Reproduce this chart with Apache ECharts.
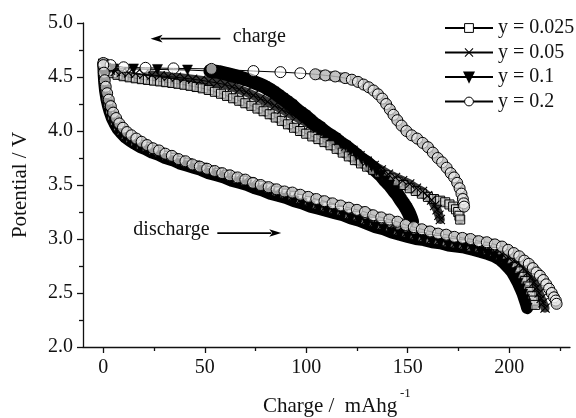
<!DOCTYPE html>
<html><head><meta charset="utf-8">
<script src="https://cdn.jsdelivr.net/npm/echarts/dist/echarts.min.js"></script>
<style>html,body{margin:0;padding:0;background:#fff}#c{width:576px;height:418px}</style>
</head><body><div id="c"></div>
<script>
// ---------- data ----------
const seriesNames = ['y = 0.025', 'y = 0.05', 'y = 0.1', 'y = 0.2'];
const xMajorTicks = [0, 50, 100, 150, 200];
const xMinorTicks = [25, 75, 125, 175, 225];

// y = 0.025
const charge025 = [[0,4.62],[1,4.585],[2.5,4.555],[4.5,4.535],[7,4.52],[10,4.507],[13,4.497],[16,4.488],[19,4.48],[22,4.473],[25,4.466],[28,4.459],[31,4.452],[34,4.445],[37,4.437],[40,4.428],[43,4.418],[46,4.407],[49,4.395],[52,4.38],[55,4.363],[58,4.345],[61,4.325],[64,4.303],[67,4.28],[70,4.257],[73,4.233],[76,4.208],[79,4.183],[82,4.155],[85,4.125],[88,4.094],[91,4.062],[94,4.03],[97,4.0],[100,3.975],[103,3.95],[106,3.925],[109,3.897],[112,3.868],[115,3.835],[118,3.80],[121,3.765],[124,3.73],[127,3.70],[130,3.67],[133,3.64],[136,3.615],[139,3.59],[142,3.56],[145,3.53],[148,3.50],[151,3.47],[154,3.445],[157,3.42],[160,3.39],[163,3.37],[166,3.355],[168.5,3.34],[170.6,3.32],[172.4,3.30],[173.8,3.275],[174.9,3.25],[175.5,3.215],[175.9,3.18]];
const discharge025 = [[0,4.62],[0.2,4.52],[0.5,4.45],[1,4.38],[1.6,4.31],[2.4,4.25],[3.3,4.19],[4.4,4.14],[5.7,4.09],[7.2,4.04],[9,4.00],[11,3.96],[13.3,3.93],[15.8,3.90],[18.5,3.87],[21.4,3.85],[24.5,3.82],[27.8,3.80],[31.2,3.77],[34.7,3.75],[38.2,3.72],[41.8,3.70],[45.4,3.68],[49,3.66],[53,3.63],[57,3.61],[61,3.59],[65,3.56],[69,3.54],[73,3.52],[77,3.49],[81,3.47],[85,3.44],[89,3.42],[93,3.40],[97,3.37],[101,3.35],[105,3.32],[109,3.30],[113,3.28],[117,3.26],[121,3.23],[125,3.21],[129,3.18],[133,3.16],[137,3.13],[141,3.11],[145,3.08],[149,3.06],[153,3.04],[157,3.02],[161,3.00],[165,2.99],[169,2.97],[173,2.96],[177,2.95],[181,2.93],[185,2.92],[189,2.90],[192.5,2.88],[195.5,2.85],[198.2,2.82],[200.6,2.78],[202.8,2.74],[204.7,2.70],[206.4,2.65],[207.9,2.61],[209.2,2.56],[210.4,2.51],[211.4,2.47],[212.2,2.43],[212.8,2.39]];

// y = 0.05
const charge05 = [[0,4.62],[1.5,4.585],[3.5,4.565],[6,4.553],[9,4.545],[12.5,4.538],[16,4.532],[20,4.525],[24,4.518],[28,4.511],[32,4.504],[36,4.497],[40,4.489],[44,4.48],[48,4.47],[52,4.458],[56,4.445],[60,4.43],[63.5,4.41],[67,4.385],[70.5,4.36],[74,4.33],[77.5,4.30],[81,4.27],[84.5,4.235],[88,4.20],[91.5,4.165],[95,4.13],[98.5,4.095],[102,4.06],[105.5,4.025],[109,3.99],[112.5,3.95],[116,3.91],[119.5,3.86],[123,3.82],[126.5,3.77],[130,3.72],[133.5,3.68],[137,3.64],[140.5,3.60],[144,3.57],[147.5,3.54],[151,3.51],[154.3,3.47],[157.3,3.44],[159.8,3.40],[161.8,3.36],[163.3,3.31],[164.5,3.27],[165.4,3.22],[166.1,3.18]];
const discharge05 = [[0,4.62],[0.2,4.53],[0.5,4.45],[1,4.37],[1.6,4.30],[2.4,4.24],[3.3,4.18],[4.4,4.13],[5.7,4.08],[7.2,4.03],[9,3.99],[11,3.95],[13.3,3.92],[15.8,3.89],[18.5,3.86],[21.4,3.84],[24.5,3.81],[27.8,3.79],[31.2,3.76],[34.7,3.74],[38.2,3.71],[41.8,3.69],[45.4,3.67],[49,3.65],[53,3.62],[57,3.60],[61,3.58],[65,3.55],[69,3.53],[73,3.51],[77,3.48],[81,3.46],[85,3.43],[89,3.41],[93,3.39],[97,3.36],[101,3.34],[105,3.31],[109,3.29],[113,3.27],[117,3.25],[121,3.22],[125,3.20],[129,3.17],[133,3.15],[137,3.12],[141,3.10],[145,3.07],[149,3.05],[153,3.03],[157,3.01],[161,2.99],[165,2.98],[169,2.96],[173,2.95],[177,2.94],[181,2.93],[185,2.91],[189,2.90],[193,2.88],[196.5,2.86],[199.5,2.83],[202.3,2.80],[204.8,2.77],[207,2.73],[209,2.69],[210.8,2.65],[212.3,2.60],[213.6,2.55],[214.8,2.50],[215.8,2.45],[216.7,2.41],[217.7,2.36]];

// y = 0.1
const charge01 = [[0,4.62],[5.1,4.575],[14.9,4.575],[26.7,4.57],[41.5,4.565],[52.8,4.555],[57,4.545],[60.5,4.53],[63.5,4.515],[66.5,4.50],[69.3,4.485],[72,4.47],[74.6,4.45],[77.1,4.43],[79.5,4.41],[81.8,4.385],[84,4.36],[86.2,4.33],[88.4,4.30],[90.6,4.27],[92.8,4.24],[95,4.20],[97.2,4.17],[99.5,4.14],[101.9,4.10],[104.3,4.06],[106.8,4.03],[109.3,3.99],[111.8,3.96],[114.3,3.93],[116.8,3.89],[119.4,3.86],[122,3.82],[124.6,3.78],[127.2,3.74],[129.7,3.71],[132.2,3.67],[134.6,3.63],[136.9,3.59],[139.1,3.54],[141.2,3.50],[143.2,3.45],[145,3.41],[146.7,3.36],[148.2,3.32],[149.5,3.28],[150.6,3.24],[151.5,3.20],[152.2,3.16]];
const discharge01 = [[0,4.62],[0.2,4.52],[0.5,4.44],[0.9,4.37],[1.5,4.30],[2.2,4.24],[3.1,4.18],[4.2,4.12],[5.5,4.07],[7,4.02],[8.8,3.98],[10.8,3.94],[13,3.91],[15.5,3.88],[18.2,3.85],[21,3.83],[24,3.80],[27.2,3.78],[30.5,3.75],[34,3.73],[37.5,3.70],[41,3.68],[44.5,3.66],[48,3.64],[51.8,3.61],[55.6,3.59],[59.4,3.57],[63.2,3.54],[67,3.52],[70.8,3.50],[74.6,3.47],[78.4,3.45],[82.2,3.42],[86,3.40],[90,3.38],[94,3.35],[98,3.33],[102,3.30],[106,3.28],[110,3.26],[114,3.24],[118,3.22],[122,3.19],[126,3.17],[130,3.14],[134,3.11],[138,3.09],[142,3.06],[146,3.04],[150,3.02],[154,3.00],[158,2.99],[162,2.97],[166,2.96],[170,2.94],[174,2.93],[178,2.92],[182,2.90],[186,2.88],[189.5,2.86],[192.5,2.84],[195.3,2.81],[197.7,2.77],[199.7,2.73],[201.5,2.69],[203,2.64],[204.4,2.59],[205.6,2.54],[206.7,2.49],[207.6,2.44],[208.3,2.40],[208.9,2.36]];

// y = 0.2
const charge02 = [[0,4.63],[3.6,4.61],[10,4.59],[20.8,4.585],[34.6,4.58],[53.3,4.575],[74,4.555],[87.3,4.545],[97.1,4.535],[104.5,4.525],[109.4,4.515],[114.3,4.505],[119.2,4.49],[122.5,4.475],[125.5,4.455],[128.3,4.43],[130.8,4.405],[133.2,4.375],[135.4,4.34],[137.5,4.30],[139.4,4.25],[141.2,4.20],[143,4.15],[144.9,4.10],[147,4.05],[149.4,4.00],[152,3.96],[154.7,3.93],[157.4,3.89],[160,3.85],[162.4,3.80],[164.8,3.75],[167,3.71],[169.2,3.66],[171.2,3.61],[172.9,3.57],[174.4,3.52],[175.6,3.47],[176.5,3.42],[177.2,3.37],[177.6,3.33],[177.8,3.30]];
const discharge02 = [[0,4.61],[0.3,4.54],[0.7,4.47],[1.2,4.41],[1.9,4.35],[2.7,4.29],[3.7,4.23],[4.9,4.17],[6.3,4.12],[7.9,4.07],[9.7,4.03],[11.7,3.99],[13.9,3.96],[16.3,3.93],[18.9,3.90],[21.6,3.87],[24.5,3.84],[27.5,3.82],[30.6,3.79],[33.8,3.77],[37.1,3.74],[40.5,3.72],[44,3.69],[47.6,3.67],[51.2,3.65],[54.9,3.63],[58.6,3.61],[62.4,3.59],[66.2,3.57],[70,3.55],[73.8,3.52],[77.6,3.50],[81.5,3.48],[85.4,3.46],[89.3,3.44],[93.2,3.43],[97.1,3.41],[101,3.39],[105,3.37],[109,3.35],[113,3.33],[117,3.31],[121,3.29],[125,3.27],[129,3.25],[133,3.22],[137,3.20],[141,3.18],[145,3.16],[149,3.13],[153,3.11],[157,3.09],[161,3.07],[165,3.05],[169,3.04],[173,3.02],[177,3.01],[181,3.00],[185,2.98],[189,2.97],[193,2.95],[196.5,2.93],[199.5,2.90],[202.3,2.87],[205,2.84],[207.5,2.80],[209.7,2.77],[211.7,2.73],[213.5,2.69],[215.2,2.66],[216.8,2.62],[218.3,2.58],[219.7,2.54],[221,2.50],[222.1,2.46],[223,2.43],[223.4,2.40]];

// ---------- styles ----------
const FONT = '"Liberation Serif", "Times New Roman", serif';
const INK = '#111';
const CROSS = 'path://M0,0.8L0.8,0L5,4.2L9.2,0L10,0.8L5.8,5L10,9.2L9.2,10L5,5.8L0.8,10L0,9.2L4.2,5Z';
const markerStyles = {
  'y = 0.025': { symbol: 'rect', symbolSize: 9, symbolRotate: 0, itemStyle: { color: 'rgba(255,255,255,0.5)', borderColor: '#000', borderWidth: 1 } },
  'y = 0.05':  { symbol: CROSS, symbolSize: 10, symbolRotate: 0, itemStyle: { color: '#000', borderColor: '#000', borderWidth: 0 } },
  'y = 0.1':   { symbol: 'triangle', symbolSize: 10, symbolRotate: 180, itemStyle: { color: '#000', borderColor: '#000', borderWidth: 0.5 } },
  'y = 0.2':   { symbol: 'circle', symbolSize: 11, symbolRotate: 0, itemStyle: { color: 'rgba(255,255,255,0.6)', borderColor: '#000', borderWidth: 1 } }
};
// dense-marker bands (where the reference markers overlap into a solid band)
const bandStyles = {
  'y = 0.025': { color: '#5a5a5a', width: 9 },
  'y = 0.05':  { color: '#3a3a3a', width: 9 },
  'y = 0.1':   { color: '#000', width: 12 },
  'y = 0.2':   { color: '#6a6a6a', width: 10 }
};
// [name, data, first index where markers become dense, band width override]
const curves = [
  ['y = 0.025', charge025, 2], ['y = 0.025', discharge025, 0],
  ['y = 0.05', charge05, 8], ['y = 0.05', discharge05, 0],
  ['y = 0.1', charge01, 5, 14], ['y = 0.1', discharge01, 0],
  ['y = 0.2', charge02, 9], ['y = 0.2', discharge02, 0]
];

const bandSeries = curves.map(([name, data, from, w]) => ({
  name: 'band ' + name, type: 'line', data: data.slice(from),
  showSymbol: false, silent: true, z: 1,
  lineStyle: { color: bandStyles[name].color, width: w || bandStyles[name].width, cap: 'round', join: 'round' },
  emphasis: { disabled: true }
}));
const markerSeries = curves.map(([name, data]) => Object.assign({
  name, type: 'line', data, z: 2,
  showSymbol: true, showAllSymbol: true,
  lineStyle: { color: '#000', width: 1 },
  emphasis: { disabled: true },
  silent: true
}, markerStyles[name]));

const legendData = seriesNames.map(n => ({
  name: n,
  itemStyle: (n === 'y = 0.025' || n === 'y = 0.2') ? { color: '#fff', borderColor: '#000', borderWidth: 1 } : undefined
}));

const chart = echarts.init(document.getElementById('c'), null, { renderer: 'canvas' });
const axisLineStyle = { color: INK, width: 1.3 };
chart.setOption({
  animation: false,
  backgroundColor: '#fff',
  grid: { left: 83, right: 6, top: 23, bottom: 71, containLabel: false },
  legend: {
    data: legendData,
    orient: 'vertical',
    left: 439, top: 13,
    itemWidth: 48, itemHeight: 11, itemGap: 4.5,
    lineStyle: { width: 2 },
    textStyle: { fontFamily: FONT, fontSize: 20, color: INK },
    selectedMode: false
  },
  xAxis: [{
    type: 'value', min: -10, max: 230,
    axisLine: { show: true, onZero: false, lineStyle: axisLineStyle },
    axisTick: { show: true, inside: false, length: 6, customValues: xMajorTicks, lineStyle: axisLineStyle },
    axisLabel: { customValues: xMajorTicks, margin: 11, fontFamily: FONT, fontSize: 20, color: INK },
    splitLine: { show: false }
  }, {
    type: 'value', min: -10, max: 230, position: 'bottom',
    axisLine: { show: false },
    axisTick: { show: true, inside: false, length: 4, customValues: xMinorTicks, lineStyle: axisLineStyle },
    axisLabel: { show: false },
    splitLine: { show: false }
  }],
  yAxis: {
    type: 'value', min: 2, max: 5, interval: 0.5,
    axisLine: { show: true, onZero: false, lineStyle: axisLineStyle },
    axisTick: { show: true, inside: false, length: 6, lineStyle: axisLineStyle },
    minorTick: { show: true, splitNumber: 2, length: 4, lineStyle: axisLineStyle },
    axisLabel: { margin: 10, fontFamily: FONT, fontSize: 20, color: INK, formatter: v => v.toFixed(1) },
    splitLine: { show: false }
  },
  series: bandSeries.concat(markerSeries)
});

// ---------- annotations & axis titles ----------
function px(x, y) { return chart.convertToPixel({ xAxisIndex: 0, yAxisIndex: 0 }, [x, y]); }
function arrow(tail, head) {
  const dx = head[0] - tail[0], dy = head[1] - tail[1];
  const L = Math.hypot(dx, dy), ux = dx / L, uy = dy / L;
  const hl = 12, hw = 3.8;
  const bx = head[0] - ux * hl, by = head[1] - uy * hl;
  return [
    { type: 'line', shape: { x1: tail[0], y1: tail[1], x2: bx + ux * 2, y2: by + uy * 2 }, style: { stroke: '#000', lineWidth: 1.8 }, silent: true },
    { type: 'polygon', shape: { points: [[head[0], head[1]], [bx - uy * hw, by + ux * hw], [bx + ux * 3, by + uy * 3], [bx + uy * hw, by - ux * hw]] }, style: { fill: '#000' }, silent: true }
  ];
}
const tChargeTxt = px(76.9, 4.87), tChargeA = px(57.7, 4.855), tChargeB = px(23.3, 4.855);
const tDisTxt = px(33.6, 3.09), tDisA = px(56.2, 3.055), tDisB = px(87.7, 3.055);
const g = [];
g.push({ type: 'text', x: tChargeTxt[0], y: tChargeTxt[1], style: { text: 'charge', font: '20px ' + FONT, fill: INK, align: 'center', verticalAlign: 'middle' }, silent: true });
g.push(...arrow(tChargeA, tChargeB));
g.push({ type: 'text', x: tDisTxt[0], y: tDisTxt[1], style: { text: 'discharge', font: '20px ' + FONT, fill: INK, align: 'center', verticalAlign: 'middle' }, silent: true });
g.push(...arrow(tDisA, tDisB));
// y axis title
g.push({ type: 'text', x: 20, y: 185, rotation: Math.PI / 2, style: { text: 'Potential / V', font: '21px ' + FONT, fill: INK, align: 'center', verticalAlign: 'middle' }, silent: true });
// x axis title with superscript
g.push({ type: 'text', x: 263, y: 406, style: { text: 'Charge /  mAhg', font: '21px ' + FONT, fill: INK, align: 'left', verticalAlign: 'middle' }, silent: true });
g.push({ type: 'text', x: 400, y: 394, style: { text: '-1', font: '13px ' + FONT, fill: INK, align: 'left', verticalAlign: 'middle' }, silent: true });
chart.setOption({ graphic: g });
</script>
</body></html>
